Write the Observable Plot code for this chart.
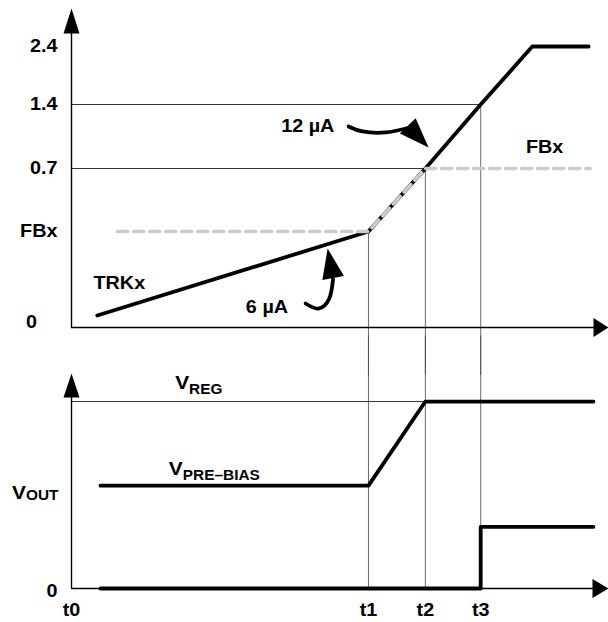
<!DOCTYPE html>
<html><head><meta charset="utf-8">
<script src="https://cdn.jsdelivr.net/npm/d3@7"></script>
<script src="https://cdn.jsdelivr.net/npm/@observablehq/plot@0.6"></script>
<style>
body{margin:0;background:#fff;}
#chart svg{display:block;}
</style></head><body><div id="chart"></div>
<script>
// ---- time axis (schematic units) ----
const tLabels = ["t0", "t1", "t2", "t3"];
const tValues = [0, 5.53, 6.59, 7.62];
const tAxisEnd = 10;

// ---- top panel: TRKx / FBx ----
const topTickLabels = ["FBx", "0.7", "1.4", "2.4"];
const topTickValues = [0.4, 0.7, 1.4, 2.4];
const topAxisTop = 3.05;
// the drawing is not to scale: relative spacing of the levels on the page
const topLevelValues = [0, 0.4, 0.7, 1.4, 2.4, 3.05];
const topLevelSpacing = [0, 96, 159, 223, 281, 319];
const trkT = [0.48, 5.53, 6.59, 7.62, 8.58, 9.63];
const trkV = [0.05, 0.4, 0.7, 1.4, 2.4, 2.4];
const fbT = [0.86, 5.53, 6.59, 9.66];
const fbV = [0.4, 0.4, 0.7, 0.7];
const refLevels = [0.7, 1.4];        // thin reference lines
const refEnds = [6.59, 7.62];        // they stop at t2 and t3
const vLineTops = [0.4, 0.7, 1.4];   // t1, t2, t3 guide lines start here
const topLabels = ["TRKx", "6 µA", "12 µA", "FBx"];
const topLabelT = [0.89, 3.64, 4.40, 8.81];
const topLabelV = [0.183, 0.083, 1.16, 0.93];
const arrow12T = [5.16, 5.42, 5.85, 6.25];
const arrow12V = [1.16, 1.105, 1.094, 1.14];
const head12 = {t: 6.65, v: 0.93, angle: 136};
const arrow6T = [4.36, 4.60, 4.80, 4.87];
const arrow6V = [0.10, 0.079, 0.121, 0.20];
const head6 = {t: 4.77, v: 0.329, angle: -10.6};

// ---- bottom panel: VOUT ----
const bottomAxisTop = 1.15;
const vreg = 1.0;
const voutT = [0.54, 5.53, 6.59, 9.72];
const voutV = [0.55, 0.55, 1.0, 1.0];
const stepT = [0.54, 7.62, 7.62, 9.72];
const stepV = [0, 0, 0.33, 0.33];
const bottomLabels = ["V|REG", "V|PRE–BIAS"];
const bottomLabelT = [2.37, 2.66];
const bottomLabelV = [1.10, 0.64];

const zip = (xs, ys) => xs.map((x, i) => ({x, y: ys[i]}));
function headSym(len, half, angle) {
  const a = angle * Math.PI / 180, c = Math.cos(a), s = Math.sin(a);
  const rot = (x, y) => [x * c - y * s, x * s + y * c];
  return {draw(ctx) {
    const p1 = rot(half, len), p2 = rot(-half, len);
    ctx.moveTo(0, 0); ctx.lineTo(p1[0], p1[1]); ctx.lineTo(p2[0], p2[1]); ctx.closePath();
  }};
}
const font = {fontFamily: "'Liberation Sans', Arial, sans-serif", fontWeight: "bold", fontSize: "18px", background: "white", overflow: "visible"};
const xScale = {domain: [0, tAxisEnd], axis: null};
const levelMap = d3.scaleLinear().domain(topLevelValues).range(topLevelSpacing);

const topPlot = Plot.plot({
  width: 608, height: 345, marginLeft: 71, marginRight: 0, marginTop: 8, marginBottom: 18,
  x: xScale,
  y: {type: "linear", transform: v => levelMap(v), domain: [0, topLevelSpacing[topLevelSpacing.length - 1]], axis: null},
  style: font,
  marks: [
    Plot.ruleY(refLevels.map((v, i) => ({v, e: refEnds[i]})), {y: "v", x1: () => 0, x2: "e", stroke: "#333", strokeWidth: 1}),
    Plot.ruleX(tValues.slice(1).map((t, i) => ({t, top: vLineTops[i]})), {x: "t", y1: "top", y2: () => -0.2, stroke: "#444", strokeWidth: 0.8}),
    Plot.ruleX([0], {y1: () => 0, y2: () => topAxisTop - 0.1, stroke: "black", strokeWidth: 1.4}),
    Plot.ruleY([0], {x1: () => 0, x2: () => tAxisEnd - 0.1, stroke: "black", strokeWidth: 1.4}),
    Plot.dot([{x: 0, y: topAxisTop}], {x: "x", y: "y", symbol: headSym(25, 8, 0), fill: "black", stroke: "none"}),
    Plot.dot([{x: tAxisEnd, y: 0}], {x: "x", y: "y", symbol: headSym(15, 9.5, 90), fill: "black", stroke: "none"}),
    Plot.line(zip(trkT, trkV), {x: "x", y: "y", stroke: "black", strokeWidth: 3.8, strokeLinecap: "round"}),
    Plot.line(zip(fbT, fbV), {x: "x", y: "y", stroke: "#cbcbcb", strokeWidth: 3.6, strokeDasharray: "10,6"}),
    Plot.line(zip(arrow12T, arrow12V), {x: "x", y: "y", curve: "natural", stroke: "black", strokeWidth: 3.8, strokeLinecap: "round"}),
    Plot.dot([head12], {x: "t", y: "v", symbol: headSym(30, 11, head12.angle), fill: "black", stroke: "none"}),
    Plot.line(zip(arrow6T, arrow6V), {x: "x", y: "y", curve: "natural", stroke: "black", strokeWidth: 3.8, strokeLinecap: "round"}),
    Plot.dot([head6], {x: "t", y: "v", symbol: headSym(30, 11, head6.angle), fill: "black", stroke: "none"}),
    Plot.text(topTickLabels.map((l, i) => ({l, v: topTickValues[i]})), {x: () => 0, y: "v", text: "l", textAnchor: "end", dx: -14, fill: "black"}),
    Plot.text(["0"], {x: () => 0, y: () => 0, text: d => d, dx: -40, dy: -5, fill: "black"}),
    Plot.text(topLabels.map((l, i) => ({l, t: topLabelT[i], v: topLabelV[i]})), {x: "t", y: "v", text: "l", fill: "black"})
  ]
});

const bottomPlot = Plot.plot({
  width: 608, height: 277, marginLeft: 71, marginRight: 0, marginTop: 28, marginBottom: 34,
  x: xScale,
  y: {domain: [0, bottomAxisTop], axis: null},
  style: font,
  marks: [
    Plot.ruleY([vreg], {x1: () => 0, x2: () => tValues[2], stroke: "#333", strokeWidth: 1}),
    Plot.ruleX(tValues.slice(1), {y1: () => 0, y2: () => 1.35, stroke: "#444", strokeWidth: 0.8}),
    Plot.ruleX([0], {y1: () => 0, y2: () => bottomAxisTop - 0.05, stroke: "black", strokeWidth: 1.4}),
    Plot.ruleY([0], {x1: () => 0, x2: () => tAxisEnd - 0.1, stroke: "black", strokeWidth: 1.4}),
    Plot.dot([{x: 0, y: bottomAxisTop}], {x: "x", y: "y", symbol: headSym(24, 8, 0), fill: "black", stroke: "none"}),
    Plot.dot([{x: tAxisEnd, y: 0}], {x: "x", y: "y", symbol: headSym(16, 9.5, 90), fill: "black", stroke: "none"}),
    Plot.line(zip(voutT, voutV), {x: "x", y: "y", stroke: "black", strokeWidth: 3.8, strokeLinecap: "round"}),
    Plot.line(zip(stepT, stepV), {x: "x", y: "y", stroke: "black", strokeWidth: 3.8, strokeLinecap: "round"}),
    Plot.text(bottomLabels.map((l, i) => ({l, t: bottomLabelT[i], v: bottomLabelV[i]})), {x: "t", y: "v", text: "l", fill: "black"}),
    Plot.text(["V|OUT"], {x: () => 0, y: () => 0.51, text: d => d, textAnchor: "end", dx: -13, fill: "black"}),
    Plot.text(["0"], {x: () => 0, y: () => 0, text: d => d, textAnchor: "end", dx: -14, dy: 3, fill: "black"}),
    Plot.text(tLabels.map((l, i) => ({l, t: tValues[i]})), {x: "t", y: () => 0, text: "l", dy: 22, fill: "black"})
  ]
});

const root = document.getElementById("chart");
root.append(topPlot, bottomPlot);

// subscripts: "V|SUB" -> V with a smaller, lowered subscript
root.querySelectorAll("text").forEach(t => {
  const s = t.textContent;
  if (s.includes("|")) {
    const [main, sub] = s.split("|");
    t.textContent = "";
    const a = document.createElementNS("http://www.w3.org/2000/svg", "tspan");
    a.textContent = main; a.setAttribute("font-size", "19px");
    const b = document.createElementNS("http://www.w3.org/2000/svg", "tspan");
    b.textContent = sub; b.setAttribute("font-size", "14px");
    b.setAttribute("dy", sub === "OUT" ? "1" : "5");
    t.append(a, b);
  }
});
// the original lettering is slightly wider than Arial: stretch a little
root.querySelectorAll("text").forEach(t => {
  const L = t.getComputedTextLength();
  if (L > 0) {
    t.setAttribute("textLength", (L * 1.1).toFixed(1));
    t.setAttribute("lengthAdjust", "spacingAndGlyphs");
  }
});
</script></body></html>
